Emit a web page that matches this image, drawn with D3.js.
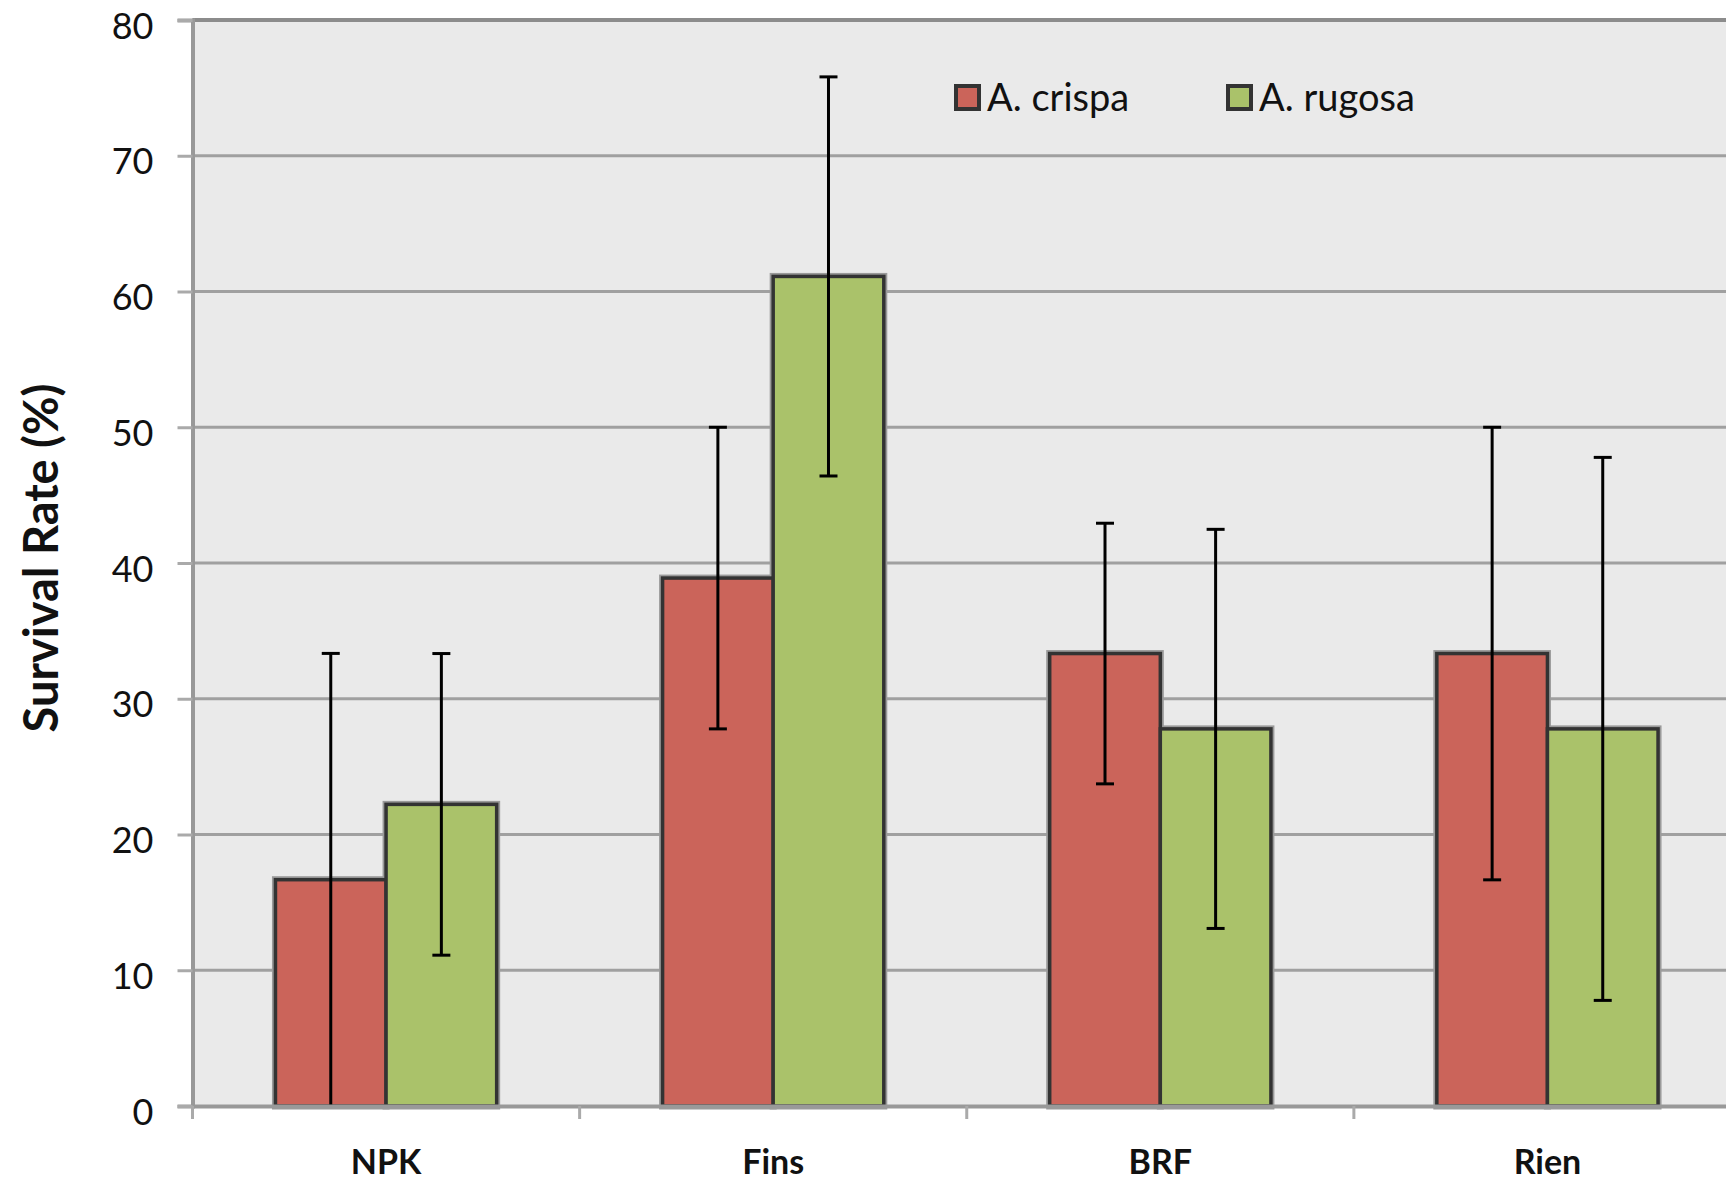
<!DOCTYPE html>
<html><head><meta charset="utf-8">
<script src="https://cdn.jsdelivr.net/npm/d3@7"></script>
<style>body{margin:0;background:#fff;overflow:hidden}svg{display:block}</style>
</head><body>
<script>
const categories = ["NPK", "Fins", "BRF", "Rien"];
const seriesNames = ["A. crispa", "A. rugosa"];
const crispaValues = [16.67, 38.89, 33.33, 33.33];
const crispaErrors = [16.67, 11.11, 9.6, 16.67];
const rugosaValues = [22.22, 61.11, 27.78, 27.78];
const rugosaErrors = [11.11, 14.7, 14.7, 20.0];
const yTicks = [0, 10, 20, 30, 40, 50, 60, 70, 80];
const colors = ["#CB645A", "#AAC26A"];

(function () {
const W = 1726, H = 1181;
const pLeft = 192.5, pTop = 20, pBottom = 1106, pRight = 1741;
const svg = d3.select("body").append("svg").attr("width", W).attr("height", H);
const font = "Lato, 'Open Sans', sans-serif";

const x = d3.scaleBand().domain(categories).range([pLeft, pRight]).padding(0);
const xs = d3.scaleBand().domain(seriesNames).range([0, x.bandwidth()]).paddingInner(0).paddingOuter(0.75);
const y = d3.scaleLinear().domain([0, 80]).range([pBottom, pTop]);

svg.append("rect").attr("x", pLeft).attr("y", pTop).attr("width", pRight - pLeft).attr("height", pBottom - pTop).attr("fill", "#EAEAEA");

svg.append("g").selectAll("line").data(yTicks.filter(d => d > 0)).join("line")
  .attr("x1", pLeft).attr("x2", pRight).attr("y1", d => y(d)).attr("y2", d => y(d))
  .attr("stroke", "#A0A0A0").attr("stroke-width", 3);

svg.append("line").attr("x1", pLeft).attr("x2", pRight).attr("y1", pTop).attr("y2", pTop).attr("stroke", "#8C8C8C").attr("stroke-width", 4);

const yAxis = svg.append("g").attr("transform", `translate(${pLeft},0)`)
  .call(d3.axisLeft(y).tickValues(yTicks).tickSize(15).tickPadding(24));
yAxis.select(".domain").attr("stroke", "#999").attr("stroke-width", 4);
yAxis.selectAll(".tick line").attr("stroke", "#AAA").attr("stroke-width", 3);
yAxis.selectAll(".tick text").attr("font-family", font).attr("font-size", 36).attr("fill", "#111").attr("dy", "0.5em");

const rows = categories.map((c, i) => ({
  cat: c,
  items: [
    { s: seriesNames[0], v: crispaValues[i], e: crispaErrors[i], color: colors[0] },
    { s: seriesNames[1], v: rugosaValues[i], e: rugosaErrors[i], color: colors[1] }
  ]
}));

const groups = svg.append("g").selectAll("g").data(rows).join("g")
  .attr("transform", d => `translate(${x(d.cat)},0)`);

groups.selectAll("rect.halo").data(d => d.items).join("rect").attr("class", "halo")
  .attr("x", d => xs(d.s)).attr("y", d => y(d.v)).attr("width", xs.bandwidth()).attr("height", d => pBottom - y(d.v))
  .attr("fill", "none").attr("stroke", "#9A9A9A").attr("stroke-width", 7);
groups.selectAll("rect.bar").data(d => d.items).join("rect").attr("class", "bar")
  .attr("x", d => xs(d.s)).attr("y", d => y(d.v)).attr("width", xs.bandwidth()).attr("height", d => pBottom - y(d.v))
  .attr("fill", d => d.color).attr("stroke", "#333").attr("stroke-width", 3.5);

const xAxis = svg.append("g").attr("transform", `translate(0,${pBottom})`)
  .call(d3.axisBottom(x).tickSize(0).tickPadding(44));
xAxis.select(".domain").attr("stroke", "#999").attr("stroke-width", 4);
xAxis.selectAll(".tick text").attr("font-family", font).attr("font-size", 34).attr("font-weight", "bold").attr("fill", "#111");
svg.append("g").selectAll("line").data(categories).join("line")
  .attr("x1", d => x(d)).attr("x2", d => x(d)).attr("y1", pBottom).attr("y2", pBottom + 13)
  .attr("stroke", "#AAA").attr("stroke-width", 3);

const eb = groups.selectAll("g.err").data(d => d.items).join("g").attr("class", "err")
  .attr("transform", d => `translate(${xs(d.s) + xs.bandwidth() / 2},0)`);
eb.append("line").attr("y1", d => y(d.v + d.e)).attr("y2", d => y(Math.max(0, d.v - d.e)))
  .attr("stroke", "#000").attr("stroke-width", 3);
eb.append("line").attr("x1", -9).attr("x2", 9).attr("y1", d => y(d.v + d.e)).attr("y2", d => y(d.v + d.e))
  .attr("stroke", "#000").attr("stroke-width", 3);
eb.filter(d => d.v - d.e > 0.01).append("line").attr("x1", -9).attr("x2", 9)
  .attr("y1", d => y(d.v - d.e)).attr("y2", d => y(d.v - d.e))
  .attr("stroke", "#000").attr("stroke-width", 3);

svg.append("text").attr("transform", `translate(58,558) rotate(-90)`)
  .attr("text-anchor", "middle").attr("font-family", font).attr("font-size", 47).attr("font-weight", "bold")
  .attr("fill", "#111").text("Survival Rate (%)");

const legendX = [954, 1226];
const lg = svg.append("g").selectAll("g").data(seriesNames).join("g")
  .attr("transform", (d, i) => `translate(${legendX[i]},84)`);
lg.append("rect").attr("x", 2).attr("y", 2).attr("width", 23).attr("height", 23)
  .attr("fill", (d, i) => colors[i]).attr("stroke", "#333").attr("stroke-width", 4);
lg.append("text").attr("x", 33).attr("y", 27).attr("font-family", font).attr("font-size", 38)
  .attr("fill", "#111").text(d => d);
})();
</script>
</body></html>
